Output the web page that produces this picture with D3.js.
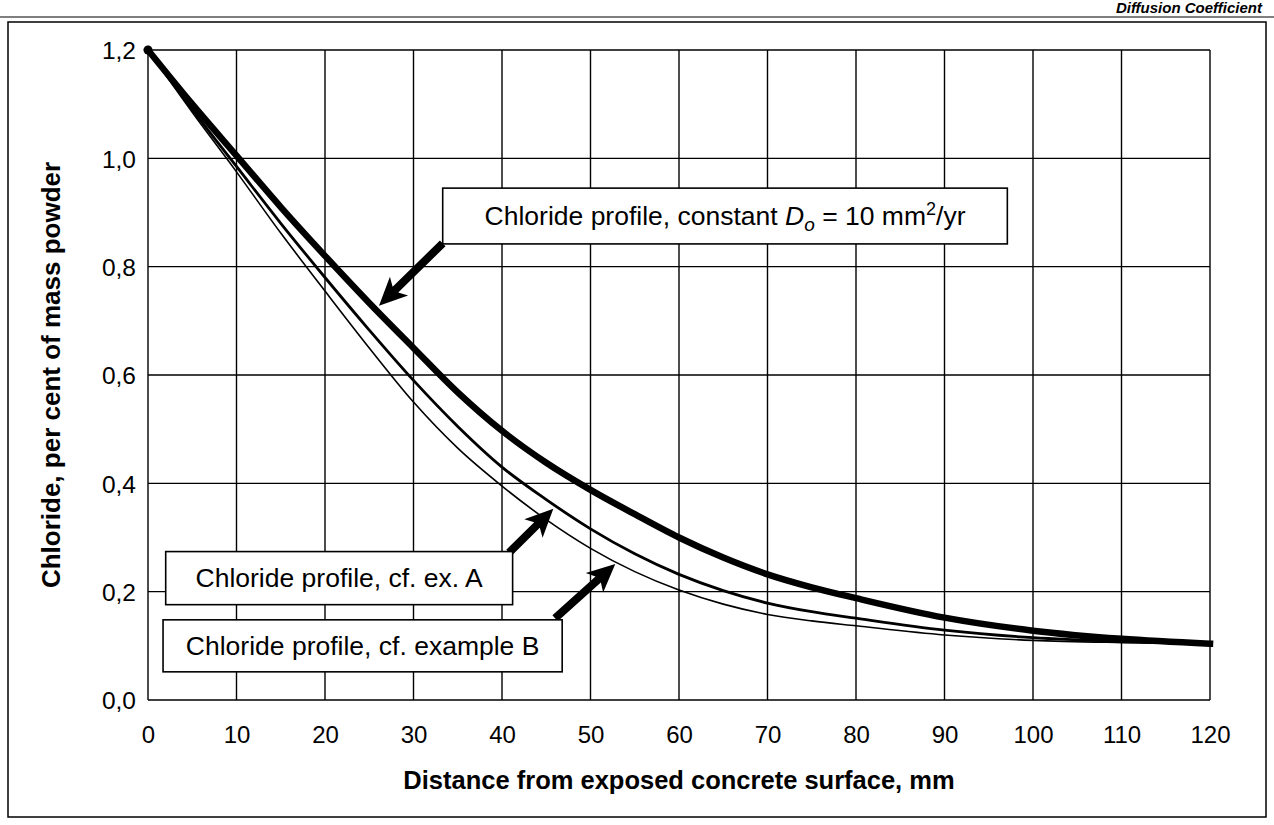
<!DOCTYPE html>
<html>
<head>
<meta charset="utf-8">
<script src="https://cdn.jsdelivr.net/npm/d3@7"></script>
<style>
  html, body { margin: 0; padding: 0; background: #fff; }
  svg { display: block; }
  text { font-family: "Liberation Sans", Arial, Helvetica, sans-serif; fill: #000; }
</style>
</head>
<body>
<svg id="chart" width="1274" height="825"></svg>
<script>
// ---------------- data ----------------
const distance = [0, 5, 10, 15, 20, 25, 30, 35, 40, 45, 50, 55, 60, 65, 70, 75, 80, 90, 100, 110, 120];
const chlorideConstantD = [1.2, 1.10, 1.005, 0.91, 0.82, 0.733, 0.65, 0.568, 0.497, 0.438, 0.388, 0.343, 0.30, 0.263, 0.232, 0.208, 0.188, 0.152, 0.128, 0.113, 0.104];
const chlorideExA = [1.2, 1.09, 0.985, 0.88, 0.78, 0.683, 0.59, 0.505, 0.43, 0.37, 0.316, 0.27, 0.232, 0.202, 0.179, 0.163, 0.151, 0.129, 0.115, 0.108, 0.104];
const chlorideExB = [1.2, 1.085, 0.975, 0.862, 0.755, 0.65, 0.55, 0.465, 0.395, 0.333, 0.28, 0.237, 0.203, 0.177, 0.158, 0.146, 0.137, 0.12, 0.11, 0.106, 0.104];

const xTickValues = [0, 10, 20, 30, 40, 50, 60, 70, 80, 90, 100, 110, 120];
const yTickValues = [0, 0.2, 0.4, 0.6, 0.8, 1.0, 1.2];
const yTickLabels = ["0,0", "0,2", "0,4", "0,6", "0,8", "1,0", "1,2"];

const xTitle = "Distance from exposed concrete surface, mm";
const yTitle = "Chloride, per cent of mass powder";
const headerText = "Diffusion Coefficient";
const labelConstant = ["Chloride profile, constant ", "D", "o", " = 10 mm", "2", "/yr"];
const labelA = "Chloride profile, cf. ex. A";
const labelB = "Chloride profile, cf. example B";

// ---------------- layout ----------------
const W = 1274, H = 825;
const plot = { left: 148, right: 1210, top: 50, bottom: 700 };

const svg = d3.select("#chart");
const x = d3.scaleLinear().domain([0, 120]).range([plot.left, plot.right]);
const y = d3.scaleLinear().domain([0, 1.2]).range([plot.bottom, plot.top]);

// running header + rule
svg.append("text")
  .attr("x", 1262).attr("y", 13)
  .attr("text-anchor", "end")
  .style("font-size", "15px").style("font-weight", "bold").style("font-style", "italic")
  .text(headerText);
svg.append("line").attr("x1", 0).attr("x2", W).attr("y1", 17).attr("y2", 17)
  .attr("stroke", "#000").attr("stroke-width", 1.2);

// outer frame
svg.append("rect").attr("x", 8).attr("y", 22).attr("width", 1258).attr("height", 795)
  .attr("fill", "none").attr("stroke", "#000").attr("stroke-width", 1.5);

// grid
const grid = svg.append("g").attr("stroke", "#000").attr("stroke-width", 1.4);
grid.selectAll("line.v").data(xTickValues).join("line")
  .attr("class", "v")
  .attr("x1", d => x(d)).attr("x2", d => x(d))
  .attr("y1", y(1.2)).attr("y2", y(0));
grid.selectAll("line.h").data(yTickValues).join("line")
  .attr("class", "h")
  .attr("x1", x(0)).attr("x2", x(120))
  .attr("y1", d => y(d)).attr("y2", d => y(d));

// axes (labels only, via d3 axes)
const xAxis = d3.axisBottom(x).tickValues(xTickValues).tickSize(0).tickPadding(0)
  .tickFormat(d => String(d));
const gx = svg.append("g").attr("transform", `translate(0,${plot.bottom})`).call(xAxis);
gx.select(".domain").remove();
gx.selectAll("text").attr("y", 43).attr("dy", null)
  .style("font-size", "24px").style("font-family", "'Liberation Sans', Arial, sans-serif");

const yAxis = d3.axisLeft(y).tickValues(yTickValues).tickSize(0).tickPadding(0)
  .tickFormat((d, i) => yTickLabels[i]);
const gy = svg.append("g").attr("transform", `translate(${plot.left},0)`).call(yAxis);
gy.select(".domain").remove();
gy.selectAll("text").attr("x", -12).attr("dy", "0.36em")
  .style("font-size", "24.5px").style("font-family", "'Liberation Sans', Arial, sans-serif");

// axis titles
svg.append("text")
  .attr("x", (plot.left + plot.right) / 2).attr("y", 789)
  .attr("text-anchor", "middle")
  .style("font-size", "25.5px").style("font-weight", "bold")
  .text(xTitle);
svg.append("text")
  .attr("transform", `translate(60,${(plot.top + plot.bottom) / 2}) rotate(-90)`)
  .attr("text-anchor", "middle")
  .style("font-size", "26px").style("font-weight", "bold")
  .text(yTitle);

// curves
const series = [
  { values: chlorideExB, width: 1.6 },
  { values: chlorideExA, width: 2.8 },
  { values: chlorideConstantD, width: 6.5 }
];
const line = d3.line()
  .x((d, i) => x(distance[i]))
  .y(d => y(d))
  .curve(d3.curveMonotoneX);
svg.append("g").selectAll("path").data(series).join("path")
  .attr("d", s => line(s.values))
  .attr("fill", "none")
  .attr("stroke", "#000")
  .attr("stroke-width", s => s.width)
  .attr("stroke-linejoin", "round")
  .attr("stroke-linecap", "square");
svg.append("circle")
  .attr("cx", x(distance[0])).attr("cy", y(chlorideConstantD[0]))
  .attr("r", 4.5).attr("fill", "#000");

// ---------------- annotations ----------------
function arrow(g, x1, y1, x2, y2) {
  const ang = Math.atan2(y2 - y1, x2 - x1);
  const len = Math.hypot(x2 - x1, y2 - y1);
  const headLen = 28, headHalf = 13, shaftHalf = 4, barb = 5;
  const pts = [
    [0, -shaftHalf], [len - headLen + barb, -shaftHalf], [len - headLen, -headHalf],
    [len, 0],
    [len - headLen, headHalf], [len - headLen + barb, shaftHalf], [0, shaftHalf]
  ];
  g.append("path")
    .attr("d", "M" + pts.map(p => p.join(",")).join("L") + "Z")
    .attr("transform", `translate(${x1},${y1}) rotate(${ang * 180 / Math.PI})`)
    .attr("fill", "#000");
}

function box(g, x0, x1, y0, y1) {
  g.append("rect")
    .attr("x", x(x0)).attr("y", y(y0))
    .attr("width", x(x1) - x(x0)).attr("height", y(y1) - y(y0))
    .attr("fill", "#fff").attr("stroke", "#000").attr("stroke-width", 1.6);
}

const ann = svg.append("g");
const boxFont = "26.5px";

// constant D box
arrow(ann, x(33.3), y(0.843), x(26.1), y(0.728));
box(ann, 33.3, 97.1, 0.945, 0.842);
const t1 = ann.append("text")
  .attr("x", (x(33.3) + x(97.1)) / 2).attr("y", (y(0.945) + y(0.842)) / 2 + 9)
  .attr("text-anchor", "middle").style("font-size", boxFont);
t1.append("tspan").text(labelConstant[0]);
t1.append("tspan").style("font-style", "italic").text(labelConstant[1]);
t1.append("tspan").style("font-style", "italic").style("font-size", "19px").attr("dy", 6).text(labelConstant[2]);
t1.append("tspan").attr("dy", -6).text(labelConstant[3]);
t1.append("tspan").style("font-size", "18px").attr("dy", -10).text(labelConstant[4]);
t1.append("tspan").attr("dy", 10).text(labelConstant[5]);

// example A box
arrow(ann, x(40.8), y(0.272), x(45.8), y(0.353));
box(ann, 2.0, 41.2, 0.274, 0.176);
ann.append("text")
  .attr("x", (x(2.0) + x(41.2)) / 2).attr("y", (y(0.274) + y(0.176)) / 2 + 9)
  .attr("text-anchor", "middle").style("font-size", boxFont)
  .text(labelA);

// example B box
arrow(ann, x(46.0), y(0.151), x(52.8), y(0.251));
box(ann, 1.7, 46.8, 0.148, 0.052);
ann.append("text")
  .attr("x", (x(1.7) + x(46.8)) / 2).attr("y", (y(0.148) + y(0.052)) / 2 + 9)
  .attr("text-anchor", "middle").style("font-size", boxFont)
  .text(labelB);
</script>
</body>
</html>
